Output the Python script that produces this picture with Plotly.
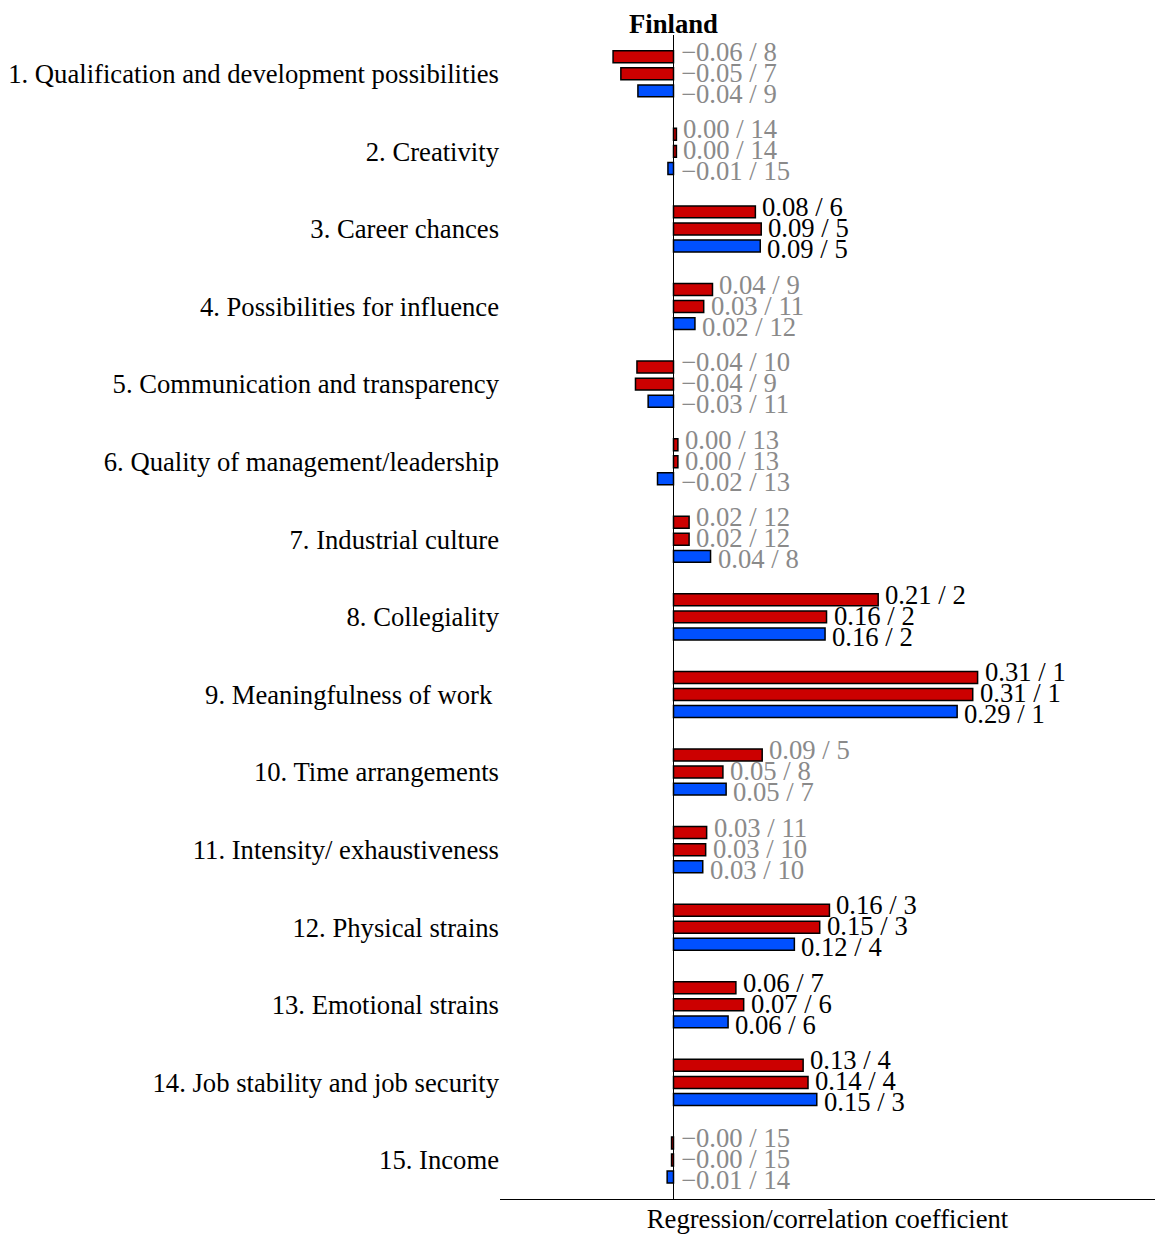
import plotly.graph_objects as go

categories = [
    "1. Qualification and development possibilities",
    "2. Creativity",
    "3. Career chances",
    "4. Possibilities for influence",
    "5. Communication and transparency",
    "6. Quality of management/leadership",
    "7. Industrial culture",
    "8. Collegiality",
    "9. Meaningfulness of work\u00a0",
    "10. Time arrangements",
    "11. Intensity/ exhaustiveness",
    "12. Physical strains",
    "13. Emotional strains",
    "14. Job stability and job security",
    "15. Income",
]

values_a = [-0.062, 0.003, 0.084, 0.040, -0.0375, 0.0045, 0.016, 0.210, 0.312, 0.091, 0.034, 0.160, 0.064, 0.133, -0.002]
values_b = [-0.054, 0.003, 0.090, 0.031, -0.039, 0.0045, 0.016, 0.157, 0.307, 0.0507, 0.033, 0.150, 0.072, 0.138, -0.002]
values_c = [-0.0365, -0.0057, 0.089, 0.022, -0.026, -0.0164, 0.038, 0.1555, 0.291, 0.054, 0.030, 0.124, 0.056, 0.147, -0.0065]

ranks_a = [8, 14, 6, 9, 10, 13, 12, 2, 1, 5, 11, 3, 7, 4, 15]
ranks_b = [7, 14, 5, 11, 9, 13, 12, 2, 1, 8, 10, 3, 6, 4, 15]
ranks_c = [9, 15, 5, 12, 11, 13, 8, 2, 1, 7, 10, 4, 6, 3, 14]

significant = [False, False, True, False, False, False, False, True, True, False, False, True, True, True, False]

series = [
    ("a", values_a, ranks_a, "#cc0000"),
    ("b", values_b, ranks_b, "#cc0000"),
    ("c", values_c, ranks_c, "#0050ff"),
]

FONT = "Liberation Serif, Times New Roman, serif"
FS = 26.67
W, H = 1155, 1234
M_L, M_R, M_T, M_B = 500, 0, 35, 35
LABEL_SPACING = 21

fig = go.Figure()
for name, vals, ranks, col in series:
    fig.add_trace(go.Bar(
        y=categories, x=vals, orientation="h", name=name,
        marker=dict(color=col, line=dict(color="black", width=1.5)),
        showlegend=False,
    ))

# value labels
for j, (name, vals, ranks, col) in enumerate(series):
    for i, cat in enumerate(categories):
        v = vals[i]
        txt = f"{v:.2f}".replace("-", "\u2212") + f" / {ranks[i]}"
        fig.add_annotation(
            x=max(v, 0), y=cat, xref="x", yref="y",
            text=txt, showarrow=False, xanchor="left", yanchor="middle",
            xshift=5, yshift=(1 - j) * LABEL_SPACING + 1,
            font=dict(family=FONT, size=FS, color="black" if significant[i] else "#8a8a8a"),
        )

fig.add_annotation(
    x=0, y=1, xref="x", yref="paper", text="<b>Finland</b>", showarrow=False,
    xanchor="center", yanchor="bottom", yshift=-6,
    font=dict(family=FONT, size=FS, color="black"),
)

fig.update_layout(
    width=W, height=H,
    margin=dict(l=M_L, r=M_R, t=M_T, b=M_B),
    barmode="group", bargap=0.34, bargroupgap=0.3,
    plot_bgcolor="white", paper_bgcolor="white",
    font=dict(family=FONT, size=FS, color="black"),
)
fig.update_xaxes(
    range=[-0.178, 0.494], showgrid=False, showticklabels=False, ticks="",
    zeroline=True, zerolinecolor="black", zerolinewidth=1.2,
    showline=True, linecolor="black", linewidth=1.2,
    title=dict(text="Regression/correlation coefficient", standoff=12,
               font=dict(family=FONT, size=FS, color="black")),
)
fig.update_yaxes(
    autorange="reversed", showgrid=False, ticks="", showline=False,
    tickfont=dict(family=FONT, size=FS, color="black"),
)

fig.write_html(
    "out.html",
    config={"displayModeBar": False},
    post_script="document.body.style.margin='0';document.body.style.overflow='hidden';",
)
